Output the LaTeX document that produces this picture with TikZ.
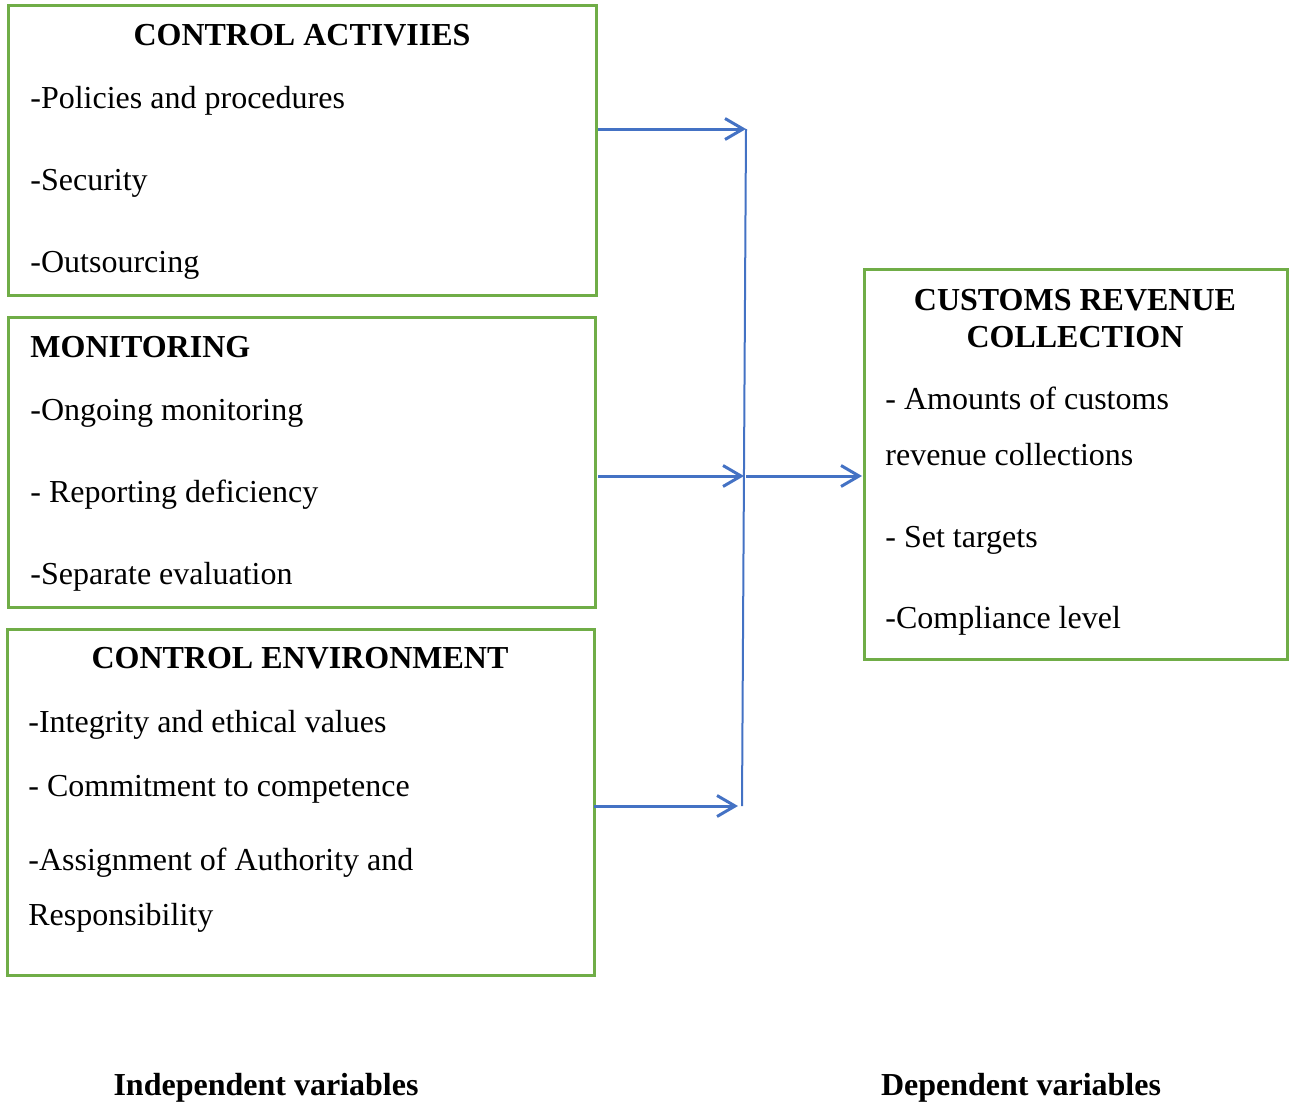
\documentclass[tikz,border=0pt]{standalone}
\usepackage{fontspec}
\setmainfont{Liberation Serif}
\usetikzlibrary{positioning, arrows.meta}

\definecolor{boxgreen}{RGB}{112,173,71}
\definecolor{linkblue}{RGB}{68,114,196}

\begin{document}
\begin{tikzpicture}[
  x=0.5pt, y=-0.5pt,
  varbox/.style={
    draw=boxgreen, line width=1.5pt, fill=none,
    inner sep=0pt, outer sep=0pt, anchor=north west
  },
  item/.style={
    anchor=base west, inner sep=0pt,
    font=\fontsize{16}{19}\selectfont
  },
  head/.style={
    anchor=base, inner sep=0pt,
    font=\fontsize{16}{19}\selectfont\bfseries
  },
  feed/.style={-{Straight Barb[length=9pt, width=10.5pt, line width=1.5pt]},
    linkblue, line width=1.5pt},
  busline/.style={-, linkblue, line width=1pt},
]
  \useasboundingbox (0,0) rectangle (1295,1103);

  % variable boxes
  \node[varbox, minimum width=294pt, minimum height=145pt] (CA) at (8,5) {};
  \node[varbox, minimum width=293.5pt, minimum height=145pt] (MON) at (8,317) {};
  \node[varbox, minimum width=293.5pt, minimum height=173pt] (CE) at (7,629) {};
  \node[varbox, minimum width=211.5pt, minimum height=195pt] (CRC) at (864,269) {};

  % control activities
  \node[head] (CAtitle) at (302,46) {CONTROL ACTIVIIES};
  \node[item] (CApol) at (30,108) {-Policies and procedures};
  \node[item] (CAsec) at (30,190) {-Security};
  \node[item] (CAout) at (30,272) {-Outsourcing};

  % monitoring
  \node[head, anchor=base west] (MONtitle) at (30,357) {MONITORING};
  \node[item] (MONong) at (30,420) {-Ongoing monitoring};
  \node[item] (MONrep) at (30,502) {- Reporting deficiency};
  \node[item] (MONsep) at (30,584) {-Separate evaluation};

  % control environment
  \node[head] (CEtitle) at (300,668) {CONTROL ENVIRONMENT};
  \node[item] (CEint) at (28,732) {-Integrity and ethical values};
  \node[item] (CEcom) at (28,796) {- Commitment to competence};
  \node[item] (CEass) at (28,870) {-Assignment of Authority and};
  \node[item] (CEres) at (28,925) {Responsibility};

  % customs revenue collection
  \node[head] (CRCtitle) at (1075,310) {CUSTOMS REVENUE};
  \node[head] (CRCtitleb) at (1075,347) {COLLECTION};
  \node[item] (CRCamt) at (885,409) {- Amounts of customs};
  \node[item] (CRCrev) at (885,465) {revenue collections};
  \node[item] (CRCset) at (885,547) {- Set targets};
  \node[item] (CRCcom) at (885,628) {-Compliance level};

  % captions
  \node[head] (IVcap) at (266,1095) {Independent variables};
  \node[head] (DVcap) at (1021,1095) {Dependent variables};

  % connectors
  \coordinate (jtop) at (746,129);
  \coordinate (jmid) at (744,476);
  \coordinate (jbot) at (742,806);
  \coordinate (jbotend) at (738,806);

  \draw[busline] (jtop) -- (jbot);
  \draw[feed] ([xshift=1pt]CA.east |- jtop) -- (jtop);
  \draw[feed] ([xshift=1.5pt]MON.east |- jmid) -- (jmid);
  \draw[feed] (CE.east |- jbot) -- (jbotend);
  \draw[feed] ([xshift=1pt]jmid) -- ([xshift=-1pt]CRC.west |- jmid);
\end{tikzpicture}
\end{document}
